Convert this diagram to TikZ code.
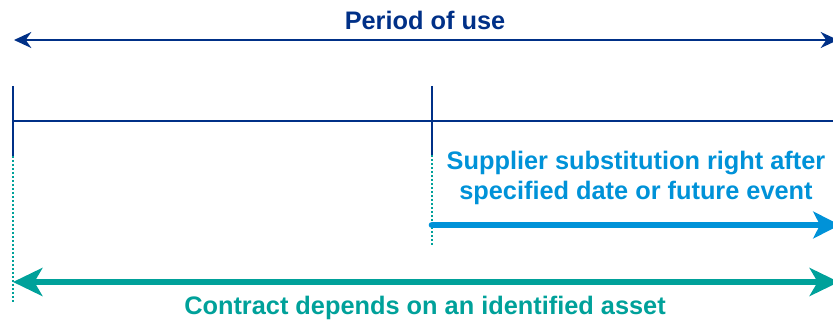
\documentclass[tikz,border=0pt]{standalone}
\usepackage{fontspec}
\setmainfont{Liberation Sans}
\usepackage{tikz}
\usetikzlibrary{arrows.meta}
\definecolor{darkblue}{RGB}{0,48,135}
\definecolor{lightblue}{RGB}{0,146,216}
\definecolor{tealgreen}{RGB}{0,161,154}

\begin{document}
\begin{tikzpicture}[x=0.75pt,y=0.75pt,yscale=-1,xscale=1,
  label text/.style={inner sep=0.75pt,align=center,font=\fontsize{19}{22}\selectfont\bfseries},
  dots/.style={tealgreen,line width=1pt,dash pattern=on 1.5pt off 1.5pt}]
\useasboundingbox (0,0) rectangle (833,324);

% Points
\coordinate (usestart) at (14,40);
\coordinate (useend) at (838,40);
\coordinate (linestart) at (13,121);
\coordinate (lineend) at (833,121);
\coordinate (tickatop) at (13,86);
\coordinate (tickabot) at (13,156);
\coordinate (tickbtop) at (432,86);
\coordinate (tickbbot) at (432,155);
\coordinate (dotabot) at (13,302);
\coordinate (dotbbot) at (432,245);
\coordinate (subend) at (840,225);
\coordinate (substart) at (432,225);
\coordinate (assetstart) at (13,282);
\coordinate (assetend) at (839,282);

% Text Node
\node (period) [label text,darkblue] at (425,20) {Period of use};
% Text Node
\node (supplier) [label text,lightblue] at (636,178) {Supplier substitution right after\\specified date or future event};
% Text Node
\node (contract) [label text,tealgreen] at (425,308) {Contract depends on an identified asset};

% Connection
\draw [darkblue,line width=1.4pt,{Stealth[length=13pt,width=12pt]}-{Stealth[length=13pt,width=12pt]}] (usestart) -- (useend);
% Connection
\draw [darkblue,line width=2pt] (linestart) -- (lineend);
% Connection
\draw [darkblue,line width=2pt] (tickatop) -- (tickabot);
% Connection
\draw [darkblue,line width=2pt] (tickbtop) -- (tickbbot);
% Connection
\draw [dots] (tickabot) -- (dotabot);
% Connection
\draw [dots] (tickbbot) -- (dotbbot);
% Connection
\draw [lightblue,line width=5pt,line cap=round,-{Stealth[length=20pt,width=20pt,inset=5pt]}] (substart) -- (subend);
% Connection
\draw [tealgreen,line width=5pt,{Stealth[length=22pt,width=21pt,inset=6pt]}-{Stealth[length=22pt,width=21pt,inset=6pt]}] (assetstart) -- (assetend);

\end{tikzpicture}
\end{document}
